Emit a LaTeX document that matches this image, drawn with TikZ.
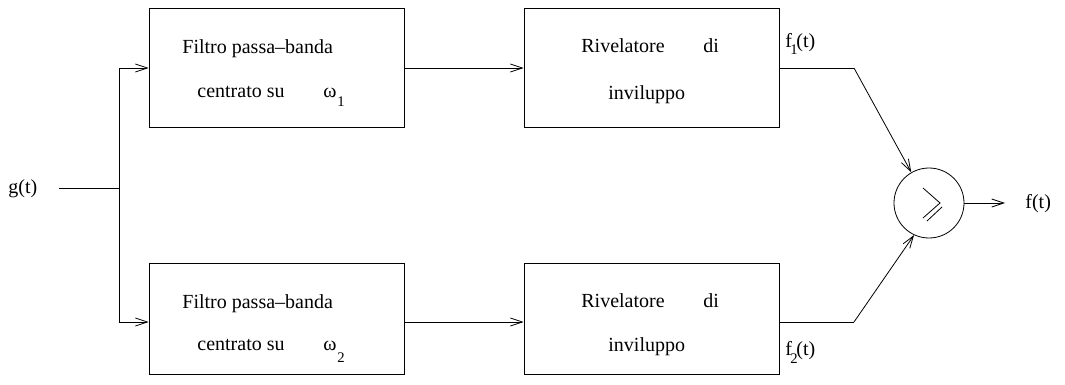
\documentclass[tikz,border=0pt]{standalone}
\usepackage{fontspec}
\setmainfont{Liberation Serif}
\usetikzlibrary{arrows.meta,calc}
\begin{document}
\begin{tikzpicture}[x=0.75pt,y=-0.75pt,
  line width=0.6pt,
  box/.style={draw,minimum width=191.25pt,inner sep=0},
  tallbox/.style={box,minimum height=89.25pt},
  shortbox/.style={box,minimum height=83.25pt},
  lbl/.style={anchor=base west,inner sep=0,font=\fontsize{15}{18}\selectfont},
  sublbl/.style={anchor=base west,inner sep=0,font=\fontsize{11}{13}\selectfont},
  arr/.style={-{Straight Barb[length=9pt,width=6pt]}},
]
\useasboundingbox (0,0) rectangle (1065,385);

% boxes
\node[tallbox] (b1) at (276.5,67.5) {};
\node[tallbox] (b2) at (651.5,67.5) {};
\node[shortbox] (b3) at (276.5,318.5) {};
\node[shortbox] (b4) at (651.5,318.5) {};

% box texts
\node[lbl] (t1a) at (182,54) {Filtro passa–banda};
\node[lbl] (t1b) at (197,98) {centrato su};
\node[lbl] (t1c) at (323,98) {ω};
\node[sublbl] (t1d) at (337,107) {1};
\node[lbl] (t2a) at (581,53) {Rivelatore};
\node[lbl] (t2b) at (703,53) {di};
\node[lbl] (t2c) at (608,99) {inviluppo};

\node[lbl] (t3a) at (182,308) {Filtro passa–banda};
\node[lbl] (t3b) at (197,350) {centrato su};
\node[lbl] (t3c) at (323,350) {ω};
\node[sublbl] (t3d) at (337,362) {2};
\node[lbl] (t4a) at (581,307) {Rivelatore};
\node[lbl] (t4b) at (703,307) {di};
\node[lbl] (t4c) at (608,351) {inviluppo};

% input
\node[lbl] (g) at (8,193) {g(t)};
\coordinate (gs) at (59,188);
\coordinate (split) at (119,188);
\coordinate (j1) at (119,68);
\coordinate (j2) at (119,322);
\draw (gs) -- (split);
\draw (j1) -- (j2);
\draw[arr] (j1) -- (b1.west |- j1);
\draw[arr] (j2) -- (b3.west |- j2);

% middle arrows
\draw[arr] (b1.east |- j1) -- (b2.west |- j1);
\draw[arr] (b3.east |- j2) -- (b4.west |- j2);

% comparator
\node[draw,circle,minimum size=52.5pt,inner sep=0] (c) at (929,203) {};
\draw ($(c)+(-6,-15)$) -- ($(c)+(11,0)$) -- ($(c)+(-6,15)$);
\draw ($(c)+(-2,18)$) -- ($(c)+(13,4)$);

\coordinate (k1) at (854,68);
\coordinate (k2) at (854,322);
\draw (b2.east |- k1) -- (k1);
\draw[arr] (k1) -- (c.120);
\draw (b4.east |- k2) -- (k2);
\draw[arr] (k2) -- (c.245);

\node[lbl] (f1) at (785,48) {f};
\node[sublbl] (f1s) at (790,55) {1};
\node[lbl] (f1t) at (796,48) {(t)};
\node[lbl] (f2) at (785,355) {f};
\node[sublbl] (f2s) at (790,363) {2};
\node[lbl] (f2t) at (796,355) {(t)};

% output
\coordinate (o) at (1005,203);
\draw[arr] (c.east) -- (o);
\node[lbl] (f) at (1025,209) {f(t)};
\end{tikzpicture}
\end{document}
